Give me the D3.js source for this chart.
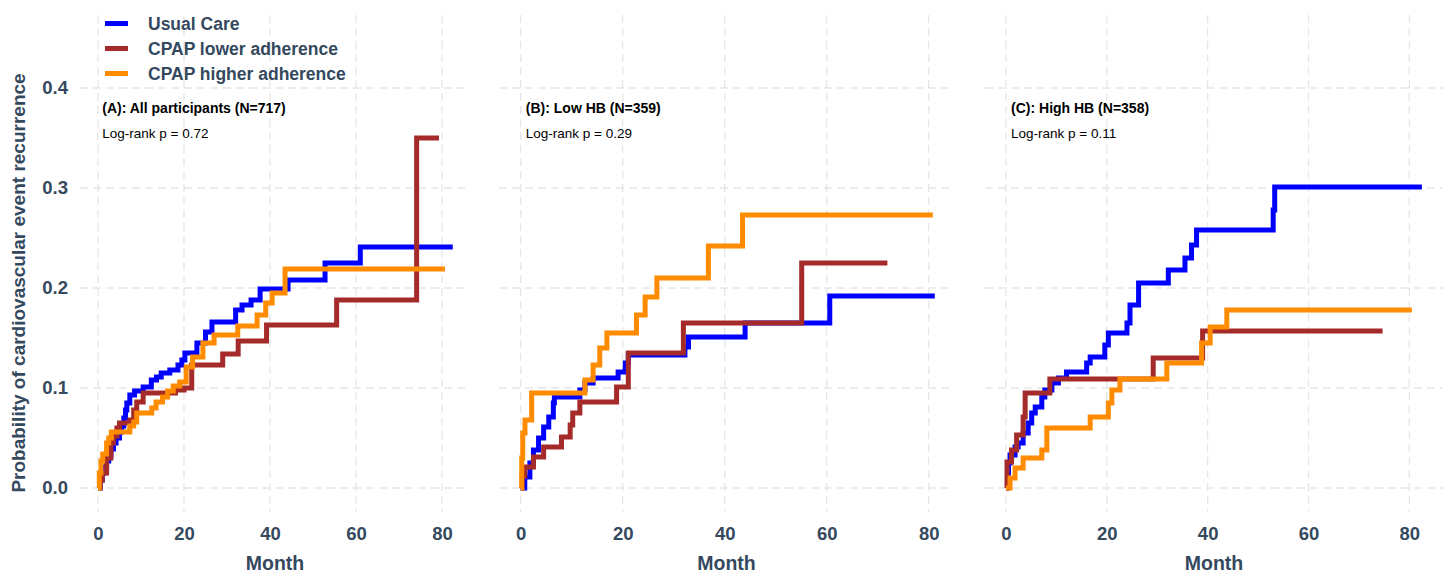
<!DOCTYPE html>
<html>
<head>
<meta charset="utf-8">
<script src="https://cdn.jsdelivr.net/npm/d3@7"></script>
<style>
  html, body { margin: 0; padding: 0; background: #ffffff; }
  svg { display: block; font-family: "Liberation Sans", Arial, sans-serif; }
</style>
</head>
<body>
<svg id="chart" width="1450" height="574"></svg>
<script>
// ---------------- DATA ----------------
const groups = ["Usual Care", "CPAP lower adherence", "CPAP higher adherence"];
const xTicks = [0, 20, 40, 60, 80];
const yTicks = [0.0, 0.1, 0.2, 0.3, 0.4];
const panelTitles = ["(A): All participants (N=717)", "(B): Low HB (N=359)", "(C): High HB (N=358)"];
const logRank = ["Log-rank p = 0.72", "Log-rank p = 0.29", "Log-rank p = 0.11"];

// [month, cumulative probability]
const usualA = [[0,0],[0.5,0.008],[1,0.015],[1.5,0.021],[2,0.027],[2.5,0.033],[3,0.039],[3.6,0.045],[4.2,0.05],[5,0.056],[5.5,0.062],[6,0.07],[6.4,0.078],[6.7,0.085],[7.4,0.093],[8.5,0.097],[10.5,0.101],[12.4,0.108],[13.6,0.111],[14.7,0.115],[16.7,0.118],[18.6,0.123],[19.5,0.128],[20.2,0.135],[23,0.145],[25,0.156],[26.5,0.166],[32,0.178],[33.5,0.183],[35.6,0.188],[37.7,0.199],[44.2,0.208],[52.8,0.225],[61,0.241],[82.5,0.241]];
const lowerA = [[0,0],[0.5,0.008],[1,0.015],[2,0.03],[3,0.045],[3.6,0.052],[4.4,0.06],[5,0.065],[7.4,0.068],[8.3,0.078],[9,0.086],[10.5,0.095],[18,0.098],[20,0.1],[21.8,0.123],[29,0.134],[32.6,0.147],[39.2,0.163],[55.5,0.188],[74.1,0.35],[79.3,0.35]];
const higherA = [[0,0],[0.3,0.015],[0.7,0.027],[1.1,0.034],[2,0.045],[2.5,0.05],[3.1,0.056],[7.4,0.062],[8.3,0.066],[9,0.075],[12.5,0.08],[13.5,0.086],[15,0.091],[16.2,0.097],[17.5,0.102],[19,0.106],[20.5,0.121],[22,0.131],[24.4,0.145],[27,0.153],[32.5,0.162],[37,0.173],[39,0.185],[40.5,0.195],[43.5,0.219],[80.7,0.219]];

const usualB = [[0,0],[0.8,0.011],[1.8,0.025],[2.5,0.038],[3.5,0.05],[4.5,0.061],[5.5,0.071],[6.4,0.085],[6.6,0.091],[11.6,0.098],[12.6,0.105],[14.2,0.11],[19.1,0.116],[20.5,0.125],[21.1,0.133],[32.2,0.141],[32.9,0.151],[44,0.165],[60.6,0.192],[81.2,0.192]];
const lowerB = [[0,0],[0.3,0.012],[0.8,0.021],[2.5,0.031],[4.5,0.041],[8,0.051],[9.7,0.063],[10.2,0.075],[11.6,0.086],[18.8,0.101],[21.1,0.135],[31.9,0.165],[55.1,0.225],[71.9,0.225]];
const higherB = [[0,0],[0.2,0.03],[0.4,0.055],[0.84,0.068],[2.15,0.095],[12.6,0.108],[14.2,0.123],[15.5,0.14],[16.9,0.155],[22.7,0.173],[24.4,0.191],[26.7,0.21],[36.8,0.242],[43.5,0.273],[80.8,0.273]];

const usualC = [[0,0],[0.3,0.015],[0.5,0.025],[0.8,0.033],[1.8,0.041],[2.4,0.045],[3.4,0.055],[4.4,0.065],[5.1,0.075],[5.8,0.081],[7.1,0.091],[7.7,0.098],[9.1,0.105],[10.4,0.11],[12,0.116],[16,0.125],[16.7,0.131],[19.6,0.143],[20.3,0.155],[24,0.165],[24.6,0.183],[26.3,0.205],[32.2,0.218],[35.5,0.23],[36.8,0.243],[37.8,0.258],[53,0.278],[53.3,0.301],[82.5,0.301]];
const lowerC = [[0,0],[0.2,0.026],[1.1,0.038],[2.1,0.053],[3.4,0.071],[3.8,0.095],[8.7,0.109],[29.2,0.13],[39,0.157],[74.7,0.157]];
const higherC = [[0,0],[0.8,0.01],[1.8,0.02],[3.4,0.03],[7.1,0.038],[8.1,0.06],[16.7,0.071],[20.3,0.085],[21,0.098],[22.6,0.109],[31.9,0.125],[38.8,0.145],[40.5,0.161],[43.8,0.178],[80.5,0.178]];

const colors = ["#0000ff", "#a52a2a", "#ff8c00"];

// ---------------- LAYOUT ----------------
const panels = [
  { series: [usualA, lowerA, higherA], left: 80, right: 470, x0: 98, x80: 442, yAxis: true },
  { series: [usualB, lowerB, higherB], left: 499, right: 954, x0: 520.7, x80: 928.7, yAxis: false },
  { series: [usualC, lowerC, higherC], left: 985, right: 1443, x0: 1006, x80: 1409.3, yAxis: false }
];
const panelTop = 15, panelBottom = 512;
const textColor = "#34495e";
const gridColor = "#e6e6e6";

const svg = d3.select("#chart");
svg.append("rect").attr("width", 1450).attr("height", 574).attr("fill", "#fff");

const y = d3.scaleLinear().domain([0, 0.4]).range([488, 88]);

panels.forEach((p, i) => {
  const x = d3.scaleLinear().domain([0, 80]).range([p.x0, p.x80]);
  const g = svg.append("g");

  // grid
  g.selectAll(".hgrid").data(yTicks).enter().append("line")
    .attr("x1", p.left).attr("x2", p.right)
    .attr("y1", d => y(d)).attr("y2", d => y(d))
    .attr("stroke", gridColor).attr("stroke-width", 1.3).attr("stroke-dasharray", "8,5");
  g.selectAll(".vgrid").data(xTicks).enter().append("line")
    .attr("x1", d => x(d)).attr("x2", d => x(d))
    .attr("y1", panelTop).attr("y2", panelBottom)
    .attr("stroke", gridColor).attr("stroke-width", 1.3).attr("stroke-dasharray", "8,5");

  // x axis
  const xa = g.append("g").attr("transform", `translate(0,${panelBottom})`)
    .call(d3.axisBottom(x).tickValues(xTicks).tickSize(0).tickPadding(15).tickFormat(d3.format("d")));
  xa.select(".domain").remove();
  xa.selectAll("text").attr("fill", textColor).attr("font-size", 18.5).attr("font-weight", "bold")
    .attr("font-family", "Liberation Sans, Arial, sans-serif");

  // y axis
  if (p.yAxis) {
    const ya = g.append("g").attr("transform", `translate(${p.left},0)`)
      .call(d3.axisLeft(y).tickValues(yTicks).tickSize(0).tickPadding(12).tickFormat(d3.format(".1f")));
    ya.select(".domain").remove();
    ya.selectAll("text").attr("fill", textColor).attr("font-size", 18.5).attr("font-weight", "bold")
      .attr("font-family", "Liberation Sans, Arial, sans-serif");
  }

  // x title
  g.append("text").attr("x", (p.left + p.right) / 2).attr("y", 563)
    .attr("text-anchor", "middle").attr("dominant-baseline", "central")
    .attr("fill", textColor).attr("font-size", 19.5).attr("font-weight", "bold").text("Month");

  // curves
  const line = d3.line().x(d => x(d[0])).y(d => y(d[1])).curve(d3.curveStepAfter);
  p.series.forEach((s, k) => {
    g.append("path").attr("d", line(s)).attr("fill", "none")
      .attr("stroke", colors[k]).attr("stroke-width", 5)
      .attr("stroke-linejoin", "miter").attr("stroke-linecap", "butt");
  });

  // annotations
  g.append("text").attr("x", x(1)).attr("y", 108).attr("dominant-baseline", "central")
    .attr("fill", "#000").attr("font-size", 14).attr("font-weight", "bold").text(panelTitles[i]);
  g.append("text").attr("x", x(1)).attr("y", 133).attr("dominant-baseline", "central")
    .attr("fill", "#000").attr("font-size", 13.5).text(logRank[i]);
});

// y title
svg.append("text").attr("transform", "translate(18,283) rotate(-90)")
  .attr("text-anchor", "middle").attr("dominant-baseline", "central")
  .attr("fill", textColor).attr("font-size", 19).attr("font-weight", "bold")
  .text("Probability of cardiovascular event recurrence");

// legend
const leg = svg.append("g");
groups.forEach((name, k) => {
  const yy = 23.5 + k * 25;
  leg.append("line").attr("x1", 105).attr("x2", 128).attr("y1", yy).attr("y2", yy)
    .attr("stroke", colors[k]).attr("stroke-width", 5);
  leg.append("text").attr("x", 148).attr("y", yy).attr("dominant-baseline", "central")
    .attr("fill", textColor).attr("font-size", 17.5).attr("font-weight", "bold").text(name);
});
</script>
</body>
</html>
